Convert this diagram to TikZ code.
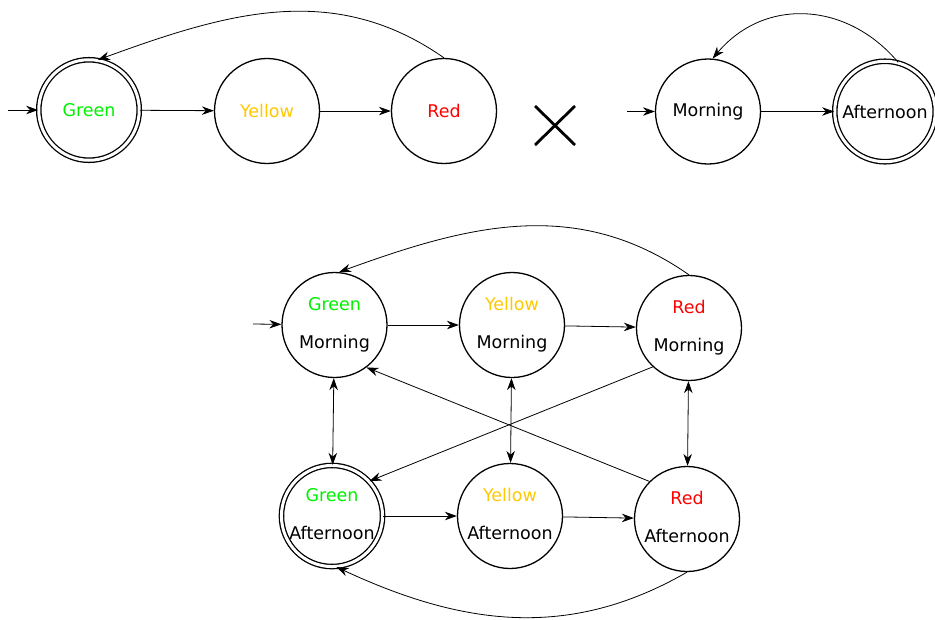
\documentclass[tikz,border=0pt]{standalone}
\usepackage{fontspec}
\setmainfont{DejaVu Sans}
\usetikzlibrary{arrows.meta}
\definecolor{cgreen}{RGB}{0,240,0}
\definecolor{cyellow}{RGB}{255,200,0}
\definecolor{cred}{RGB}{255,0,0}
\tikzset{
  state/.style={circle, draw, line width=1.3pt, minimum size=105pt, inner sep=0pt,
    font=\fontsize{17.5}{38}\selectfont, align=center},
  accepting/.style={state, double, double distance=3pt, minimum size=100.5pt},
  edgeline/.style={line width=0.8pt, -{Stealth[length=12pt,width=8.5pt]}},
  biline/.style={line width=0.8pt, {Stealth[length=12pt,width=8.5pt]}-{Stealth[length=12pt,width=8.5pt]}},
  crossline/.style={line width=2.8pt}
}
\begin{document}
\begin{tikzpicture}[x=1pt,y=-1pt]
\useasboundingbox (0,0) rectangle (935,619);
% top row
\node[accepting] (G) at (89,110) {\textcolor{cgreen}{Green}};
\node[state] (Y) at (267,111) {\textcolor{cyellow}{Yellow}};
\node[state] (R) at (444,111) {\textcolor{cred}{Red}};
\coordinate (s1) at (8,110);
\draw[edgeline] (s1) -- (G);
\draw[edgeline] (G) -- (Y);
\draw[edgeline] (Y) -- (R);
\draw[edgeline] (R.north) to[out=145,in=20] (G.80);
% cross
\coordinate (x1) at (535,106);
\coordinate (x2) at (575,145);
\coordinate (x3) at (535,145);
\coordinate (x4) at (575,106);
\draw[crossline] (x1) -- (x2);
\draw[crossline] (x3) -- (x4);
% morning / afternoon
\node[state] (M) at (708,111.5) {Morning};
\node[accepting] (A) at (885,111.5) {Afternoon};
\coordinate (s2) at (627,111.5);
\draw[edgeline] (s2) -- (M);
\draw[edgeline] (M) -- (A);
\draw[edgeline] (A.75) to[out=130,in=50,looseness=1.1] (M.85);
% product
\node[state] (GM) at (334.5,325) {\textcolor{cgreen}{Green}\\Morning};
\node[state] (YM) at (512,325) {\textcolor{cyellow}{Yellow}\\Morning};
\node[state] (RM) at (689,328) {\textcolor{cred}{Red}\\Morning};
\node[accepting] (GA) at (332,516) {\textcolor{cgreen}{Green}\\Afternoon\vphantom{g}};
\node[state] (YA) at (510,516) {\textcolor{cyellow}{Yellow}\\Afternoon\vphantom{g}};
\node[state] (RA) at (687,519) {\textcolor{cred}{Red}\\Afternoon\vphantom{g}};
\coordinate (s3) at (253,324);
\draw[edgeline] (s3) -- (GM);
\draw[edgeline] (GM) -- (YM);
\draw[edgeline] (YM) -- (RM);
\draw[edgeline] (GA) -- (YA);
\draw[edgeline] (YA) -- (RA);
\draw[biline] (GM) -- (GA);
\draw[biline] (YM) -- (YA);
\draw[biline] (RM) -- (RA);
\draw[edgeline] (RM.227) -- (GA.43);
\draw[edgeline] (RA.135) -- (GM.307);
\draw[edgeline] (RM.north) to[out=145,in=20] (GM.85);
\draw[edgeline] (RA.south) to[out=-150,in=-25] (GA.-85);
\end{tikzpicture}
\end{document}
